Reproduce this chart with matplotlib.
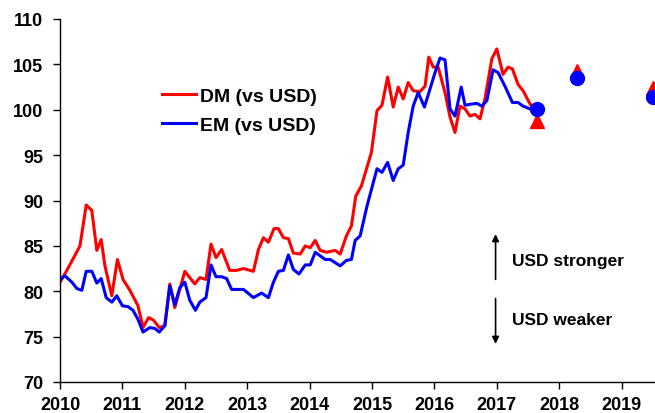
import matplotlib
matplotlib.use("Agg")
import matplotlib.pyplot as plt

plt.rcParams['font.family'] = ['Liberation Sans', 'DejaVu Sans']
plt.rcParams['font.weight'] = 'bold'

# DM (vs USD) (decimal year, index)
dm_t = [2010.00, 2010.11, 2010.32, 2010.42, 2010.51, 2010.59, 2010.66, 2010.72, 2010.83, 2010.92,
        2011.01, 2011.12, 2011.25, 2011.33, 2011.42, 2011.50, 2011.59, 2011.68, 2011.76, 2011.84,
        2011.92, 2012.00, 2012.08, 2012.16, 2012.24, 2012.34, 2012.42, 2012.50, 2012.59, 2012.72,
        2012.83, 2012.94, 2013.10, 2013.18, 2013.26, 2013.34, 2013.43, 2013.50, 2013.58, 2013.66,
        2013.74, 2013.85, 2013.93, 2014.01, 2014.09, 2014.17, 2014.27, 2014.41, 2014.49, 2014.59,
        2014.67, 2014.74, 2014.83, 2014.99, 2015.08, 2015.16, 2015.25, 2015.34, 2015.42, 2015.50,
        2015.58, 2015.66, 2015.77, 2015.85, 2015.91, 2015.98, 2016.06, 2016.17, 2016.25, 2016.33,
        2016.41, 2016.49, 2016.57, 2016.65, 2016.73, 2016.81, 2016.92, 2017.00, 2017.10, 2017.18,
        2017.25, 2017.34, 2017.42, 2017.52, 2017.61]
dm_v = [81.0, 82.3, 85.0, 89.5, 88.9, 84.5, 85.7, 82.8, 79.5, 83.5,
        81.3, 80.1, 78.4, 76.0, 77.1, 76.8, 76.0, 76.2, 80.8, 78.2,
        80.2, 82.2, 81.5, 80.8, 81.5, 81.3, 85.2, 83.7, 84.6, 82.3,
        82.3, 82.5, 82.2, 84.6, 85.9, 85.4, 86.9, 86.9, 85.9, 85.8,
        84.2, 84.1, 85.0, 84.8, 85.6, 84.5, 84.3, 84.5, 84.1, 86.1,
        87.2, 90.5, 91.6, 95.3, 99.9, 100.5, 103.6, 100.3, 102.5, 101.2,
        103.0, 102.1, 102.0, 102.6, 105.8, 104.7, 104.7, 101.9, 99.2, 97.5,
        100.4, 100.1, 99.3, 99.5, 99.0, 101.2, 105.6, 106.7, 103.9, 104.7,
        104.5, 102.8, 102.1, 100.8, 99.8]

# EM (vs USD)
em_t = [2010.00, 2010.08, 2010.19, 2010.27, 2010.35, 2010.42, 2010.51, 2010.59, 2010.66, 2010.74,
        2010.83, 2010.91, 2011.00, 2011.09, 2011.17, 2011.25, 2011.33, 2011.44, 2011.52, 2011.59,
        2011.68, 2011.76, 2011.84, 2011.92, 2012.00, 2012.08, 2012.17, 2012.24, 2012.34, 2012.42,
        2012.50, 2012.59, 2012.67, 2012.75, 2012.83, 2012.94, 2013.10, 2013.23, 2013.34, 2013.42,
        2013.50, 2013.58, 2013.66, 2013.74, 2013.83, 2013.93, 2014.01, 2014.09, 2014.17, 2014.25,
        2014.33, 2014.49, 2014.59, 2014.67, 2014.73, 2014.81, 2014.92, 2015.08, 2015.16, 2015.25,
        2015.34, 2015.42, 2015.50, 2015.58, 2015.66, 2015.74, 2015.84, 2015.93, 2016.01, 2016.09,
        2016.17, 2016.25, 2016.33, 2016.43, 2016.49, 2016.57, 2016.68, 2016.76, 2016.84, 2016.94,
        2017.02, 2017.13, 2017.25, 2017.34, 2017.42, 2017.53, 2017.64]
em_v = [81.3, 81.7, 81.0, 80.3, 80.1, 82.2, 82.2, 80.9, 81.4, 79.3,
        78.8, 79.5, 78.4, 78.3, 77.9, 76.9, 75.5, 76.0, 75.9, 75.5,
        76.2, 80.6, 78.5, 80.4, 81.0, 79.0, 77.9, 78.8, 79.3, 82.9,
        81.6, 81.6, 81.4, 80.2, 80.2, 80.2, 79.3, 79.8, 79.3, 81.0,
        82.2, 82.3, 84.0, 82.4, 81.9, 82.9, 82.9, 84.3, 83.9, 83.5,
        83.5, 82.8, 83.4, 83.5, 85.6, 86.1, 89.4, 93.5, 93.1, 94.2,
        92.2, 93.5, 93.9, 97.5, 100.4, 101.9, 100.3, 102.3, 104.1, 105.7,
        105.5, 100.1, 99.3, 102.5, 100.5, 100.6, 100.7, 100.4, 101.0, 104.4,
        104.1, 102.6, 100.8, 100.8, 100.4, 100.1, 100.1]

# point forecasts
fc_t = [2017.64, 2018.29, 2019.50]
dm_fc = [98.8, 104.3, 102.4]
em_fc = [100.1, 103.5, 101.4]

years = list(range(2010, 2020))
yticks = list(range(70, 111, 5))

fig = plt.figure(figsize=(6.55, 4.14), dpi=100)
ax = fig.add_axes([60 / 655, 1 - 383 / 414, 1 - 60 / 655, (383 - 20) / 414])

ax.plot(dm_t, dm_v, color='#ff0000', lw=2.2, label='DM (vs USD)')
ax.plot(em_t, em_v, color='#0000ff', lw=2.2, label='EM (vs USD)')
ax.plot(fc_t, dm_fc, ls='none', marker='^', ms=10, color='#ff0000', clip_on=False)
ax.plot(fc_t, em_fc, ls='none', marker='o', ms=10, color='#0000ff', clip_on=False)

ax.set_xlim(2010, 2019.535)
ax.set_ylim(70, 110)
ax.set_xticks(years)
ax.set_yticks(yticks)
ax.tick_params(axis='both', direction='out', length=5, width=1, labelsize=13)
ax.tick_params(axis='y', pad=7)
ax.tick_params(axis='x', pad=5)
for s in ['top', 'right']:
    ax.spines[s].set_visible(False)
for s in ['left', 'bottom']:
    ax.spines[s].set_linewidth(1)

ax.legend(loc='upper left', bbox_to_anchor=(0.172, 0.812), frameon=False, fontsize=14,
          handlelength=1.75, handletextpad=0.2, labelspacing=0.6, borderpad=0, borderaxespad=0)

# USD stronger / weaker arrows
ax.annotate('', xy=(2016.98, 86.6), xytext=(2016.98, 81.0),
            arrowprops=dict(arrowstyle='-|>', color='black', lw=1.2, mutation_scale=10))
ax.annotate('', xy=(2016.98, 73.9), xytext=(2016.98, 79.5),
            arrowprops=dict(arrowstyle='-|>', color='black', lw=1.2, mutation_scale=10))
ax.text(2017.25, 83.4, 'USD stronger', fontsize=12.5, fontweight='bold', va='center')
ax.text(2017.25, 76.9, 'USD weaker', fontsize=12.5, fontweight='bold', va='center')

fig.savefig('out.png', dpi=100)
